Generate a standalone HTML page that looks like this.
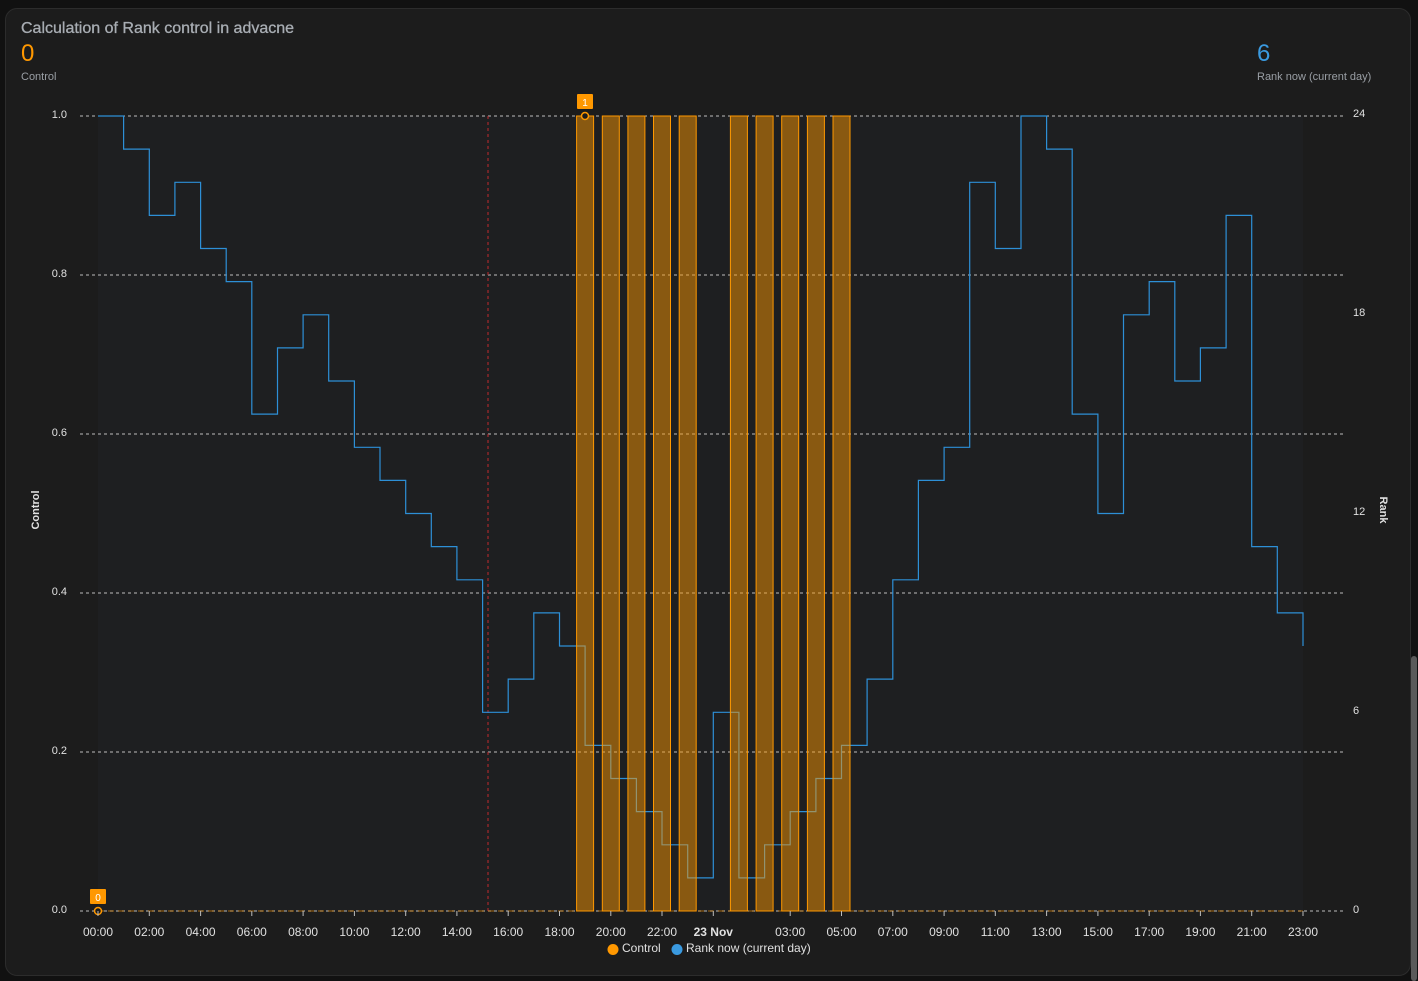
<!DOCTYPE html>
<html><head><meta charset="utf-8"><style>
html,body{margin:0;padding:0;background:#111111;width:1418px;height:981px;overflow:hidden;font-family:"Liberation Sans",sans-serif}
.card{position:absolute;left:5px;top:8px;width:1404px;height:966px;background:#1c1c1c;border:1px solid #2c2c2c;border-radius:12px}
.sb{position:absolute;left:1411px;top:656px;width:6px;height:325px;background:#5a5a5a;border-radius:3px}
svg{position:absolute;left:0;top:0}
</style></head><body>
<div class="card"></div>
<div class="sb"></div>
<svg width="1418" height="981" viewBox="0 0 1418 981" font-family="Liberation Sans, sans-serif">
<text x="21" y="33" font-size="16" fill="#a8adb3" stroke="#a8adb3" stroke-width="0.3">Calculation of Rank control in advacne</text>
<text x="21" y="61" font-size="24" fill="#ff9800">0</text>
<text x="21" y="80" font-size="11" fill="#9a9fa5">Control</text>
<text x="1257" y="61" font-size="24" fill="#3a9ae0">6</text>
<text x="1257" y="80" font-size="11" fill="#9a9fa5">Rank now (current day)</text>
<rect x="98" y="116" width="1205" height="795" fill="#1e1f21"/>
<g stroke="#bdbdbd" stroke-width="1" stroke-dasharray="3,3">
<line x1="80" y1="116" x2="1345" y2="116"/><line x1="80" y1="275" x2="1345" y2="275"/>
<line x1="80" y1="434" x2="1345" y2="434"/><line x1="80" y1="593" x2="1345" y2="593"/>
<line x1="80" y1="752" x2="1345" y2="752"/><line x1="80" y1="911" x2="1345" y2="911"/>
</g>
<g font-size="11" fill="#e0e0e0" text-anchor="end">
<text x="67" y="118">1.0</text><text x="67" y="277">0.8</text><text x="67" y="436">0.6</text>
<text x="67" y="595">0.4</text><text x="67" y="754">0.2</text><text x="67" y="913">0.0</text>
</g>
<g font-size="11" fill="#e0e0e0">
<text x="1353" y="117">24</text><text x="1353" y="316">18</text><text x="1353" y="515">12</text>
<text x="1353" y="714">6</text><text x="1353" y="913">0</text>
</g>
<text transform="translate(39,510) rotate(-90)" font-size="11" font-weight="bold" fill="#e0e0e0" text-anchor="middle">Control</text>
<text transform="translate(1380,510) rotate(90)" font-size="11" font-weight="bold" fill="#e0e0e0" text-anchor="middle">Rank</text>
<line x1="488" y1="116" x2="488" y2="911" stroke="#c0282d" stroke-dasharray="3,3"/>
<path fill="none" stroke="#2d8fd6" stroke-width="1.2" d="M98 116 H123.6 V149.1 H149.3 V215.4 H174.9 V182.3 H200.6 V248.5 H226.2 V281.6 H251.8 V414.1 H277.5 V347.9 H303.1 V314.8 H328.7 V381 H354.4 V447.3 H380 V480.4 H405.7 V513.5 H431.3 V546.6 H456.9 V579.8 H482.6 V712.3 H508.2 V679.1 H533.8 V612.9 H559.5 V646 H585.1 V745.4 H610.8 V778.5 H636.4 V811.6 H662 V844.8 H687.7 V877.9 H713.3 V712.3 H738.9 V877.9 H764.6 V844.8 H790.2 V811.6 H815.9 V778.5 H841.5 V745.4 H867.1 V679.1 H892.8 V579.8 H918.4 V480.4 H944.1 V447.3 H969.7 V182.3 H995.3 V248.5 H1021 V116 H1046.6 V149.1 H1072.2 V414.1 H1097.9 V513.5 H1123.5 V314.8 H1149.2 V281.6 H1174.8 V381 H1200.4 V347.9 H1226.1 V215.4 H1251.7 V546.6 H1277.3 V612.9 H1303 V646"/>
<line x1="98" y1="911" x2="1303" y2="911" stroke="#ff9800" stroke-width="1" stroke-dasharray="6,4" opacity="0.6"/>
<g fill="rgba(255,152,0,0.48)" stroke="#ff9800" stroke-width="1">
<rect x="576.6" y="116" width="17" height="795"/><rect x="602.3" y="116" width="17" height="795"/>
<rect x="627.9" y="116" width="17" height="795"/><rect x="653.5" y="116" width="17" height="795"/>
<rect x="679.2" y="116" width="17" height="795"/><rect x="730.4" y="116" width="17" height="795"/>
<rect x="756.1" y="116" width="17" height="795"/><rect x="781.7" y="116" width="17" height="795"/>
<rect x="807.4" y="116" width="17" height="795"/><rect x="833" y="116" width="17" height="795"/>
</g>
<rect x="577" y="94" width="16" height="15" rx="1" fill="#ff9800"/>
<text x="585" y="106" font-size="10" fill="#fff" text-anchor="middle">1</text>
<circle cx="585" cy="116" r="3.5" fill="#1c1c1c" stroke="#ff9800" stroke-width="1.5"/>
<rect x="90" y="889" width="16" height="15" rx="1" fill="#ff9800"/>
<text x="98" y="901" font-size="10" fill="#fff" text-anchor="middle">0</text>
<circle cx="98" cy="911" r="3.5" fill="#1c1c1c" stroke="#ff9800" stroke-width="1.5"/>
<g stroke="#bdbdbd"><line x1="98" y1="911" x2="98" y2="916"/><line x1="149.3" y1="911" x2="149.3" y2="916"/><line x1="200.6" y1="911" x2="200.6" y2="916"/><line x1="251.8" y1="911" x2="251.8" y2="916"/><line x1="303.1" y1="911" x2="303.1" y2="916"/><line x1="354.4" y1="911" x2="354.4" y2="916"/><line x1="405.7" y1="911" x2="405.7" y2="916"/><line x1="456.9" y1="911" x2="456.9" y2="916"/><line x1="508.2" y1="911" x2="508.2" y2="916"/><line x1="559.5" y1="911" x2="559.5" y2="916"/><line x1="610.8" y1="911" x2="610.8" y2="916"/><line x1="662" y1="911" x2="662" y2="916"/><line x1="713.3" y1="911" x2="713.3" y2="916"/><line x1="790.2" y1="911" x2="790.2" y2="916"/><line x1="841.5" y1="911" x2="841.5" y2="916"/><line x1="892.8" y1="911" x2="892.8" y2="916"/><line x1="944.1" y1="911" x2="944.1" y2="916"/><line x1="995.3" y1="911" x2="995.3" y2="916"/><line x1="1046.6" y1="911" x2="1046.6" y2="916"/><line x1="1097.9" y1="911" x2="1097.9" y2="916"/><line x1="1149.2" y1="911" x2="1149.2" y2="916"/><line x1="1200.4" y1="911" x2="1200.4" y2="916"/><line x1="1251.7" y1="911" x2="1251.7" y2="916"/><line x1="1303" y1="911" x2="1303" y2="916"/></g>
<g font-size="12" fill="#e0e0e0" text-anchor="middle">
<text x="98" y="936">00:00</text><text x="149.3" y="936">02:00</text><text x="200.6" y="936">04:00</text><text x="251.8" y="936">06:00</text><text x="303.1" y="936">08:00</text><text x="354.4" y="936">10:00</text><text x="405.7" y="936">12:00</text><text x="456.9" y="936">14:00</text><text x="508.2" y="936">16:00</text><text x="559.5" y="936">18:00</text><text x="610.8" y="936">20:00</text><text x="662" y="936">22:00</text><text x="713.3" y="936" font-weight="bold">23 Nov</text><text x="790.2" y="936">03:00</text><text x="841.5" y="936">05:00</text><text x="892.8" y="936">07:00</text><text x="944.1" y="936">09:00</text><text x="995.3" y="936">11:00</text><text x="1046.6" y="936">13:00</text><text x="1097.9" y="936">15:00</text><text x="1149.2" y="936">17:00</text><text x="1200.4" y="936">19:00</text><text x="1251.7" y="936">21:00</text><text x="1303" y="936">23:00</text>
</g>
<circle cx="613" cy="949.5" r="5.5" fill="#ff9800"/>
<text x="622" y="952" font-size="12" fill="#e0e0e0">Control</text>
<circle cx="677" cy="949.5" r="5.5" fill="#3a9ae0"/>
<text x="686" y="952" font-size="12" fill="#e0e0e0">Rank now (current day)</text>
</svg>
</body></html>
